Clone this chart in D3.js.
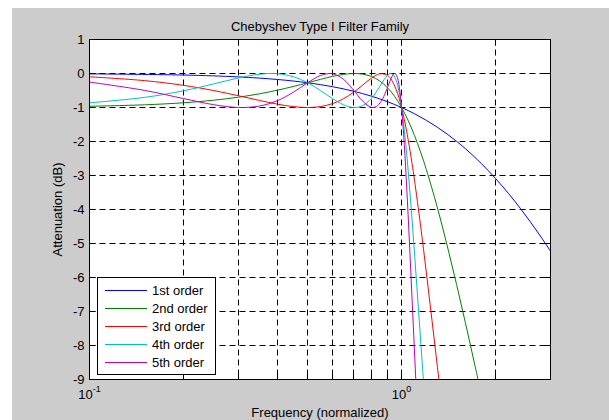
<!DOCTYPE html>
<html>
<head>
<meta charset="utf-8">
<script src="https://cdn.jsdelivr.net/npm/d3@7"></script>
<style>
body { margin: 0; background: #fff; }
svg text { font-family: "Liberation Sans", Arial, sans-serif; font-size: 13px; fill: #000; }
</style>
</head>
<body>
<svg id="chart" width="609" height="420"></svg>
<script>
// 1 dB ripple Chebyshev responses
var freq1 = [0.1, 0.2, 0.3, 0.4, 0.5, 0.6, 0.7, 0.8, 0.9, 1.0, 1.1, 1.2, 1.3, 1.4, 1.5, 1.6, 1.8, 2.0, 2.2, 2.4, 2.6, 2.8, 3.0];
var att1 = [-0.011, -0.045, -0.100, -0.176, -0.272, -0.387, -0.519, -0.666, -0.827, -1.000, -1.184, -1.376, -1.576, -1.782, -1.994, -2.208, -2.646, -3.087, -3.528, -3.964, -4.394, -4.814, -5.225];

var freq2 = [0.1, 0.15, 0.2, 0.25, 0.3, 0.35, 0.4, 0.45, 0.5, 0.55, 0.6, 0.65, 0.7, 0.75, 0.8, 0.85, 0.9, 0.95, 1.0, 1.05, 1.1, 1.15, 1.2, 1.3, 1.4, 1.5, 1.6, 1.7, 1.8];
var att2 = [-0.964, -0.921, -0.861, -0.785, -0.697, -0.598, -0.491, -0.381, -0.272, -0.172, -0.087, -0.027, -0.000, -0.018, -0.087, -0.217, -0.412, -0.674, -1.000, -1.386, -1.824, -2.306, -2.822, -3.921, -5.062, -6.203, -7.320, -8.398, -9.432];

var freq3 = [0.1, 0.15, 0.2, 0.25, 0.3, 0.35, 0.4, 0.45, 0.5, 0.55, 0.6, 0.65, 0.7, 0.75, 0.8, 0.85, 0.9, 0.93, 0.96, 0.98, 1.0, 1.02, 1.05, 1.08, 1.1, 1.15, 1.2, 1.25, 1.3, 1.35];
var att3 = [-0.097, -0.209, -0.348, -0.501, -0.654, -0.791, -0.902, -0.974, -1.000, -0.972, -0.888, -0.747, -0.558, -0.342, -0.137, -0.010, -0.052, -0.201, -0.463, -0.704, -1.000, -1.346, -1.952, -2.643, -3.140, -4.465, -5.843, -7.221, -8.565, -9.860];

var freq4 = [0.1, 0.15, 0.2, 0.25, 0.3, 0.35, 0.4, 0.45, 0.5, 0.55, 0.6, 0.65, 0.7, 0.75, 0.8, 0.85, 0.88, 0.9, 0.92, 0.94, 0.96, 0.98, 1.0, 1.02, 1.04, 1.06, 1.08, 1.1, 1.12, 1.14, 1.16, 1.18];
var att4 = [-0.862, -0.703, -0.509, -0.306, -0.132, -0.022, -0.006, -0.095, -0.272, -0.502, -0.734, -0.915, -0.999, -0.945, -0.734, -0.392, -0.174, -0.060, -0.002, -0.035, -0.196, -0.513, -1.000, -1.650, -2.439, -3.332, -4.293, -5.291, -6.303, -7.311, -8.305, -9.278];

var freq5 = [0.1, 0.15, 0.2, 0.25, 0.3, 0.35, 0.4, 0.45, 0.5, 0.55, 0.6, 0.65, 0.7, 0.75, 0.8, 0.83, 0.86, 0.89, 0.92, 0.94, 0.95, 0.96, 0.97, 0.98, 0.99, 1.0, 1.01, 1.02, 1.03, 1.04, 1.05, 1.06, 1.07, 1.08, 1.09, 1.1, 1.11, 1.12];
var att5 = [-0.252, -0.496, -0.737, -0.917, -0.999, -0.958, -0.800, -0.551, -0.272, -0.058, -0.006, -0.164, -0.479, -0.811, -0.995, -0.970, -0.817, -0.540, -0.202, -0.032, -0.000, -0.026, -0.125, -0.315, -0.605, -1.000, -1.496, -2.082, -2.742, -3.460, -4.219, -5.003, -5.801, -6.602, -7.401, -8.191, -8.970, -9.735];

var seriesNames = ["1st order", "2nd order", "3rd order", "4th order", "5th order"];
var seriesColors = ["#0000ff", "#008000", "#ff0000", "#00bfbf", "#bf00bf"];
var yTicks = [-9, -8, -7, -6, -5, -4, -3, -2, -1, 0, 1];
var xMinorTicks = [0.2, 0.3, 0.4, 0.5, 0.6, 0.7, 0.8, 0.9, 2];
var xMajorTicks = [0.1, 1];
var xTickExp = ["-1", "0"];

var series = [
    {name: seriesNames[0], color: seriesColors[0], f: freq1, a: att1},
    {name: seriesNames[1], color: seriesColors[1], f: freq2, a: att2},
    {name: seriesNames[2], color: seriesColors[2], f: freq3, a: att3},
    {name: seriesNames[3], color: seriesColors[3], f: freq4, a: att4},
    {name: seriesNames[4], color: seriesColors[4], f: freq5, a: att5}
];

var W = 609, H = 420;
var pLeft = 89.5, pRight = 550.5, pTop = 39.5, pBottom = 379.5;

var x = d3.scaleLog().domain([0.1, 3]).range([pLeft, pRight]);
var y = d3.scaleLinear().domain([-9, 1]).range([pBottom, pTop]);
var crisp = function (v) { return Math.round(v - 0.5) + 0.5; };

var svg = d3.select("#chart");

svg.append("rect")
    .attr("x", 12).attr("y", 8)
    .attr("width", W - 12).attr("height", H - 8)
    .attr("fill", "#cccccc");

svg.append("rect")
    .attr("x", pLeft).attr("y", pTop)
    .attr("width", pRight - pLeft).attr("height", pBottom - pTop)
    .attr("fill", "#ffffff");

svg.append("clipPath").attr("id", "plotclip")
    .append("rect")
    .attr("x", pLeft).attr("y", pTop)
    .attr("width", pRight - pLeft).attr("height", pBottom - pTop);

// grid
var grid = svg.append("g")
    .attr("stroke", "#000")
    .attr("stroke-width", 1)
    .attr("stroke-dasharray", "6,4");

grid.selectAll("line.gx")
    .data(xMinorTicks.concat([1]))
    .enter().append("line")
    .attr("x1", function (d) { return crisp(x(d)); })
    .attr("x2", function (d) { return crisp(x(d)); })
    .attr("y1", pTop).attr("y2", pBottom);

grid.selectAll("line.gy")
    .data(yTicks.slice(1, -1))
    .enter().append("line")
    .attr("y1", function (d) { return crisp(y(d)); })
    .attr("y2", function (d) { return crisp(y(d)); })
    .attr("x1", pLeft).attr("x2", pRight);

// curves
var line = d3.line()
    .x(function (d) { return x(d[0]); })
    .y(function (d) { return y(d[1]); })
    .curve(d3.curveCatmullRom);

svg.append("g")
    .attr("clip-path", "url(#plotclip)")
    .selectAll("path")
    .data(series)
    .enter().append("path")
    .attr("fill", "none")
    .attr("stroke-width", 1)
    .attr("stroke", function (s) { return s.color; })
    .attr("d", function (s) { return line(s.f.map(function (f, i) { return [f, s.a[i]]; })); });

// frame and inward ticks
var axes = svg.append("g").attr("stroke", "#000").attr("stroke-width", 1);
axes.append("rect")
    .attr("x", pLeft).attr("y", pTop)
    .attr("width", pRight - pLeft).attr("height", pBottom - pTop)
    .attr("fill", "none");

var tickLen = 6;
var xt = xMinorTicks.concat([1]);
axes.selectAll("line.xb").data(xt).enter().append("line")
    .attr("x1", function (d) { return crisp(x(d)); })
    .attr("x2", function (d) { return crisp(x(d)); })
    .attr("y1", pBottom).attr("y2", pBottom - tickLen);
axes.selectAll("line.xt").data(xt).enter().append("line")
    .attr("x1", function (d) { return crisp(x(d)); })
    .attr("x2", function (d) { return crisp(x(d)); })
    .attr("y1", pTop).attr("y2", pTop + tickLen);
axes.selectAll("line.yl").data(yTicks).enter().append("line")
    .attr("y1", function (d) { return crisp(y(d)); })
    .attr("y2", function (d) { return crisp(y(d)); })
    .attr("x1", pLeft).attr("x2", pLeft + tickLen);
axes.selectAll("line.yr").data(yTicks).enter().append("line")
    .attr("y1", function (d) { return crisp(y(d)); })
    .attr("y2", function (d) { return crisp(y(d)); })
    .attr("x1", pRight).attr("x2", pRight - tickLen);

// tick labels
svg.selectAll("text.ylab").data(yTicks).enter().append("text")
    .attr("x", pLeft - 5)
    .attr("y", function (d) { return y(d) + 4.5; })
    .attr("text-anchor", "end")
    .text(function (d) { return d; });

var xl = svg.selectAll("text.xlab").data(xMajorTicks).enter().append("text")
    .attr("x", function (d) { return x(d); })
    .attr("y", 399)
    .attr("text-anchor", "middle");
xl.append("tspan").text("10");
xl.append("tspan")
    .attr("dy", -7)
    .style("font-size", "9px")
    .text(function (d, i) { return xTickExp[i]; });

// titles
svg.append("text")
    .attr("x", (pLeft + pRight) / 2).attr("y", 31)
    .attr("text-anchor", "middle")
    .text("Chebyshev Type I Filter Family");

svg.append("text")
    .attr("x", (pLeft + pRight) / 2).attr("y", 417)
    .attr("text-anchor", "middle")
    .text("Frequency (normalized)");

svg.append("text")
    .attr("transform", "translate(62," + ((pTop + pBottom) / 2) + ") rotate(-90)")
    .attr("text-anchor", "middle")
    .text("Attenuation (dB)");

// legend
var lg = svg.append("g");
lg.append("rect")
    .attr("x", 97.5).attr("y", 277.5)
    .attr("width", 118).attr("height", 97)
    .attr("fill", "#fff").attr("stroke", "#000");

var rows = lg.selectAll("g.row").data(series).enter().append("g")
    .attr("transform", function (s, i) { return "translate(0," + (290.5 + i * 18) + ")"; });
rows.append("line")
    .attr("x1", 105).attr("x2", 147)
    .attr("stroke", function (s) { return s.color; })
    .attr("stroke-width", 1);
rows.append("text")
    .attr("x", 152).attr("y", 4.5)
    .text(function (s) { return s.name; });
</script>
</body>
</html>
